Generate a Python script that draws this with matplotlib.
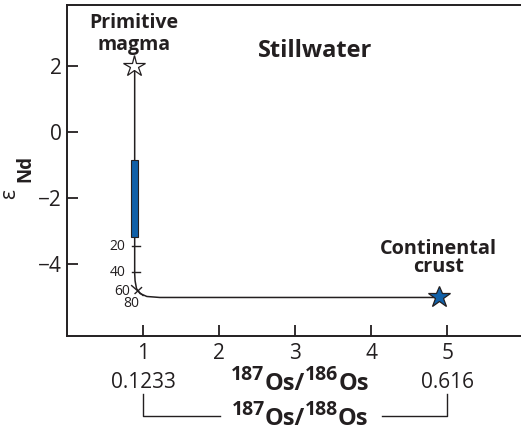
import matplotlib
matplotlib.use("Agg")
import matplotlib.pyplot as plt

plt.rcParams["font.family"] = ["Open Sans", "DejaVu Sans"]

# end members
primitive = (0.88, 2.0)
crust = (4.89, -5.03)

# mixing curve (Os ratio vs eps Nd)
mix_x = [0.89, 0.89, 0.895, 0.914, 0.96, 1.05, 1.22, 4.89]
mix_y = [2.0, -4.3, -4.52, -4.76, -4.91, -5.0, -5.03, -5.03]

# Stillwater range of eps Nd
bar_x = 0.89
bar_lo, bar_hi = -3.2, -0.85

# percent marks along the curve
pct_labels = ["20", "40"]
pct_y = [-3.47, -4.27]

ratio_186 = [1, 2, 3, 4, 5]
ratio_188 = ["0.1233", "0.616"]
ratio_188_at = [1, 5]

ink = "#231f20"
blue = "#1060a8"
W, H = 521, 434

fig = plt.figure(figsize=(W / 100, H / 100), dpi=100)
ax = fig.add_axes([67 / W, 98 / H, 1 - 67 / W, 331 / H])


def os_label(x_px, base_px, num):
    # 187Os/18xOs with big raised mass numbers, laid out piece by piece
    parts = [("187", 14, 10), ("Os/", 17, 0), (num, 14, 10), ("Os", 17, 0)]
    r = fig.canvas.get_renderer()
    texts, widths = [], []
    for s, size, up in parts:
        t = fig.text(0, 0, s, fontsize=size, fontweight="bold", color=ink,
                     ha="left", va="baseline")
        texts.append((t, up))
        widths.append(t.get_window_extent(r).width)
    x = x_px - sum(widths) / 2
    for (t, up), w in zip(texts, widths):
        t.set_position((x / W, (H - base_px + up) / H))
        x += w


ax.plot(mix_x, mix_y, color=ink, lw=1.1, zorder=2)
ax.bar(bar_x, bar_hi - bar_lo, bottom=bar_lo, width=0.09,
       color=blue, edgecolor=ink, lw=0.8, zorder=3)

# tick marks on the curve
for lab, y in zip(pct_labels, pct_y):
    ax.plot([0.855, 0.96], [y, y], color=ink, lw=1.0)
    ax.text(0.77, y, lab, ha="right", va="center", fontsize=10, color=ink)
ax.plot([0.85, 1.0], [-4.67, -4.97], color=ink, lw=1.0)
ax.plot([0.895, 0.98], [-4.91, -4.73], color=ink, lw=1.0)
ax.text(0.835, -4.86, "60", ha="right", va="center", fontsize=10, color=ink)
ax.text(0.85, -5.22, "80", ha="center", va="center", fontsize=10, color=ink)

ax.plot(*primitive, marker="*", ms=16, mfc="white", mec=ink, mew=0.9, zorder=4)
ax.plot(*crust, marker="*", ms=16.5, mfc=blue, mec=ink, mew=0.9, zorder=4)

ax.text(primitive[0], 3.15, "Primitive", ha="center", va="baseline",
        fontsize=14, fontweight="bold", color=ink)
ax.text(primitive[0], 2.48, "magma", ha="center", va="baseline",
        fontsize=14, fontweight="bold", color=ink)
ax.text(crust[0], -3.70, "Continental", ha="center", va="baseline",
        fontsize=14.3, fontweight="bold", color=ink)
ax.text(crust[0], -4.27, "crust", ha="center", va="baseline",
        fontsize=14.3, fontweight="bold", color=ink)
ax.text(3.26, 2.27, "Stillwater", ha="center", va="baseline",
        fontsize=17, fontweight="bold", color=ink)

ax.set_xlim(0, 5.97)
ax.set_ylim(-6.2, 3.85)
ax.set_xticks(ratio_186)
ax.set_yticks([2, 0, -2, -4])
ax.set_yticklabels(["2", "0", "\u22122", "\u22124"])
ax.tick_params(direction="in", length=8, width=1.3, color=ink,
               labelsize=15, labelcolor=ink)
ax.tick_params(axis="x", pad=5)
ax.tick_params(axis="y", pad=4)
for s in ["top", "left", "bottom"]:
    ax.spines[s].set_linewidth(1.4)
    ax.spines[s].set_color(ink)
ax.spines["right"].set_visible(False)

# y label: eps with bold Nd subscript
fig.text(9.5 / W, 1 - 194 / H, "\u03b5", rotation=90, ha="center", va="center",
         fontsize=15, color=ink)
fig.text(25 / W, 1 - 168 / H, "Nd", rotation=90, ha="center", va="center",
         fontsize=13.5, fontweight="bold", color=ink)

# lower axis labels
for v, lab in zip(ratio_188_at, ratio_188):
    xp = ax.transData.transform((v, 0))[0]
    fig.text(xp / W, 1 - 383 / H, lab, ha="center", va="center",
             fontsize=15, color=ink)
os_label(300, 390, "186")
os_label(300, 425, "188")

x1 = ax.transData.transform((1, 0))[0] / W
x5 = ax.transData.transform((5, 0))[0] / W
yb, yt = 1 - 416 / H, 1 - 394 / H
fig.add_artist(plt.Line2D([x1, x1, 220 / W], [yt, yb, yb], color=ink, lw=1.0))
fig.add_artist(plt.Line2D([382 / W, x5, x5], [yb, yb, yt], color=ink, lw=1.0))

fig.savefig("out.png", dpi=100)
